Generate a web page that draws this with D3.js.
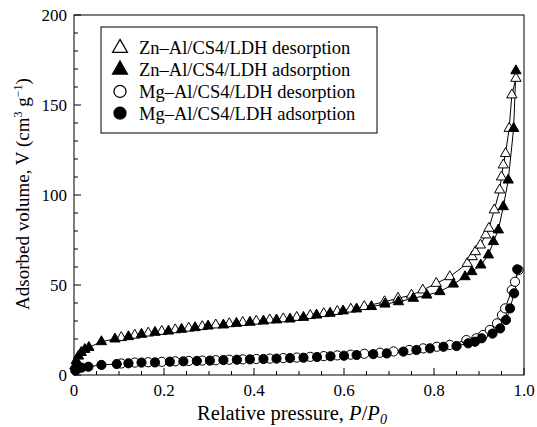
<!DOCTYPE html>
<html>
<head>
<meta charset="utf-8">
<script src="https://cdn.jsdelivr.net/npm/d3@7"></script>
<style>
  body { margin: 0; background: #fff; }
  svg text { font-family: "Liberation Serif", "Times New Roman", serif; fill: #000; }
</style>
</head>
<body>
<div id="chart"></div>
<script>
// Zn-Al/CS4/LDH adsorption (filled triangles)
const znAdsP = [0.002, 0.005, 0.01, 0.016, 0.024, 0.033, 0.061, 0.091, 0.121, 0.150, 0.18, 0.21, 0.239, 0.269, 0.298, 0.332, 0.361, 0.391, 0.421, 0.45, 0.48, 0.51, 0.539, 0.569, 0.598, 0.628, 0.661, 0.691, 0.721, 0.754, 0.784, 0.813, 0.843, 0.869, 0.884, 0.904, 0.921, 0.932, 0.943, 0.954, 0.965, 0.977, 0.982];
const znAdsV = [5, 8, 10.5, 12.5, 14.2, 15.3, 18.5, 20, 21.3, 22.6, 23.7, 24.4, 25.4, 26.3, 27.2, 27.8, 28.7, 29.3, 30, 30.6, 31.1, 32, 33.3, 34.3, 35.6, 36.7, 38, 39.4, 40.7, 42.6, 44.4, 46.3, 50.5, 54.6, 57.4, 61.1, 66.7, 74.1, 80.6, 93.5, 108.3, 137, 169];
// Zn-Al/CS4/LDH desorption (open triangles)
const znDesP = [0.105, 0.135, 0.165, 0.195, 0.225, 0.255, 0.285, 0.315, 0.345, 0.375, 0.405, 0.435, 0.465, 0.495, 0.525, 0.555, 0.585, 0.615, 0.645, 0.69, 0.72, 0.75, 0.775, 0.805, 0.835, 0.874, 0.885, 0.892, 0.903, 0.915, 0.922, 0.934, 0.946, 0.95, 0.954, 0.959, 0.967, 0.973, 0.982];
const znDesV = [20.8, 22.1, 23.3, 24.2, 25.1, 26, 26.9, 27.8, 28.5, 29.2, 29.9, 30.6, 31.2, 32, 33, 34.1, 35.3, 36.6, 38, 40.7, 42.6, 44.4, 47.2, 50.9, 54.6, 62, 65.7, 68.5, 72.2, 77.8, 81.5, 91.7, 102.8, 110, 116.7, 123, 137, 155.6, 164.8];
// Mg-Al/CS4/LDH adsorption (filled circles)
const mgAdsP = [0.003, 0.008, 0.017, 0.032, 0.061, 0.095, 0.121, 0.15, 0.18, 0.213, 0.243, 0.273, 0.302, 0.332, 0.362, 0.391, 0.421, 0.45, 0.48, 0.51, 0.54, 0.57, 0.6, 0.628, 0.665, 0.695, 0.732, 0.761, 0.791, 0.821, 0.85, 0.876, 0.891, 0.906, 0.93, 0.947, 0.96, 0.969, 0.978, 0.985];
const mgAdsV = [2.5, 3.5, 4.1, 4.6, 5.6, 6.1, 6.5, 6.9, 7.0, 7.4, 7.6, 7.8, 8.0, 8.3, 8.5, 8.7, 8.9, 9.1, 9.4, 9.6, 10.0, 10.4, 10.7, 11.1, 11.6, 12, 13, 13.9, 14.8, 15.7, 16.1, 17.6, 18.5, 20.4, 23, 25.9, 30.6, 37, 45.4, 58.7];
// Mg-Al/CS4/LDH desorption (open circles)
const mgDesP = [0.105, 0.135, 0.165, 0.195, 0.225, 0.255, 0.285, 0.315, 0.345, 0.375, 0.405, 0.435, 0.465, 0.495, 0.525, 0.555, 0.585, 0.615, 0.645, 0.68, 0.71, 0.745, 0.776, 0.806, 0.835, 0.872, 0.894, 0.909, 0.924, 0.94, 0.951, 0.958, 0.973, 0.98, 0.988];
const mgDesV = [6.4, 6.9, 7.1, 7.3, 7.6, 7.8, 8.0, 8.2, 8.5, 8.7, 8.9, 9.1, 9.4, 9.7, 10.1, 10.5, 10.9, 11.3, 11.8, 12.4, 13.1, 13.9, 14.8, 15.7, 16.7, 19.4, 20.4, 22.2, 25, 28.7, 33.3, 37, 47.2, 51.8, 58.3];

const xTicks = [0, 0.2, 0.4, 0.6, 0.8, 1.0];
const yTicks = [0, 50, 100, 150, 200];

const legendLabels = ["Zn\u2013Al/CS4/LDH desorption", "Zn\u2013Al/CS4/LDH adsorption",
                      "Mg\u2013Al/CS4/LDH desorption", "Mg\u2013Al/CS4/LDH adsorption"];

const width = 537, height = 427;
const margin = {left: 74, right: 13, top: 15, bottom: 52};

const svg = d3.select("#chart").append("svg")
    .attr("width", width)
    .attr("height", height)
    .attr("font-family", "Liberation Serif, serif");

const x = d3.scaleLinear().domain([0, 1]).range([margin.left, width - margin.right]);
const y = d3.scaleLinear().domain([0, 200]).range([height - margin.bottom, margin.top]);

const zip = (ps, vs) => ps.map((p, i) => ({p: p, v: vs[i]}));

// Series in drawing order: desorption below, adsorption on top
const series = [
    {data: zip(znDesP, znDesV), shape: "tri", filled: false},
    {data: zip(mgDesP, mgDesV), shape: "circ", filled: false},
    {data: zip(znAdsP, znAdsV), shape: "tri", filled: true},
    {data: zip(mgAdsP, mgAdsV), shape: "circ", filled: true}
];

const line = d3.line().x(d => x(d.p)).y(d => y(d.v));
const triangle = d3.symbol().type(d3.symbolTriangle).size(46);

// Lines first
series.forEach(s => {
    svg.append("path")
        .datum(s.data)
        .attr("d", line)
        .attr("fill", "none")
        .attr("stroke", "#000")
        .attr("stroke-width", 1);
});

// Markers
function drawMarker(g, shape, filled, big) {
    if (shape === "tri") {
        g.append("path").attr("d", big ? d3.symbol().type(d3.symbolTriangle).size(95) : triangle)
            .attr("fill", filled ? "#000" : "#fff")
            .attr("stroke", "#000").attr("stroke-width", big ? 1.3 : 1);
    } else {
        g.append("circle").attr("r", big ? 6 : 4.6)
            .attr("fill", filled ? "#000" : "#fff")
            .attr("stroke", "#000").attr("stroke-width", big ? 1.3 : 1);
    }
}

series.forEach(s => {
    svg.append("g").selectAll("g")
        .data(s.data)
        .enter()
        .append("g")
        .attr("transform", d => `translate(${x(d.p)},${y(d.v)})`)
        .each(function() { drawMarker(d3.select(this), s.shape, s.filled, false); });
});

// Frame
svg.append("rect")
    .attr("x", x(0)).attr("y", y(200))
    .attr("width", x(1) - x(0)).attr("height", y(0) - y(200))
    .attr("fill", "none").attr("stroke", "#000").attr("stroke-width", 1);

// X axis: major every 0.2, minor every 0.05, ticks inward
const xAxis = svg.append("g").attr("transform", `translate(0,${y(0)})`);
xAxis.selectAll("line")
    .data(d3.range(0, 1.0001, 0.05))
    .enter().append("line")
    .attr("x1", d => x(d)).attr("x2", d => x(d))
    .attr("y1", 0).attr("y2", d => Math.abs(d * 5 - Math.round(d * 5)) < 1e-6 ? -7 : -4)
    .attr("stroke", "#000");
xAxis.selectAll("text")
    .data(xTicks)
    .enter().append("text")
    .attr("x", d => x(d)).attr("y", 21)
    .attr("text-anchor", "middle")
    .style("font-size", "17px")
    .text(d => d === 0 ? "0" : d3.format(".1f")(d));

// Y axis: major every 50, minor every 10
const yAxis = svg.append("g").attr("transform", `translate(${x(0)},0)`);
yAxis.selectAll("line")
    .data(d3.range(0, 201, 10))
    .enter().append("line")
    .attr("y1", d => y(d)).attr("y2", d => y(d))
    .attr("x1", 0).attr("x2", d => d % 50 === 0 ? 7 : 4)
    .attr("stroke", "#000");
yAxis.selectAll("text")
    .data(yTicks)
    .enter().append("text")
    .attr("x", -7).attr("y", d => y(d))
    .attr("dy", "0.35em")
    .attr("text-anchor", "end")
    .style("font-size", "17px")
    .text(d => d);

// Axis titles
const xt = svg.append("text")
    .attr("x", 292).attr("y", 420)
    .attr("text-anchor", "middle")
    .style("font-size", "20.5px");
xt.append("tspan").text("Relative pressure, ");
xt.append("tspan").style("font-style", "italic").text("P");
xt.append("tspan").text("/");
xt.append("tspan").style("font-style", "italic").text("P");
xt.append("tspan").style("font-style", "italic").style("font-size", "14px").attr("dy", 4).text("0");

const yt = svg.append("text")
    .attr("transform", `translate(29,194) rotate(-90)`)
    .attr("text-anchor", "middle")
    .style("font-size", "19px");
yt.append("tspan").text("Adsorbed volume, V (cm");
yt.append("tspan").style("font-size", "12px").attr("dy", -7).text("3");
yt.append("tspan").attr("dy", 7).text(" g");
yt.append("tspan").style("font-size", "12px").attr("dy", -7).text("\u22121");
yt.append("tspan").attr("dy", 7).text(")");

// Legend
const legend = svg.append("g");
legend.append("rect")
    .attr("x", 101).attr("y", 27).attr("width", 276).attr("height", 106)
    .attr("fill", "#fff").attr("stroke", "#000").attr("stroke-width", 1);
const legendShapes = [["tri", false], ["tri", true], ["circ", false], ["circ", true]];
legendLabels.forEach((lab, i) => {
    const cy = 48 + i * 21.7;
    const g = legend.append("g").attr("transform", `translate(120,${cy})`);
    drawMarker(g, legendShapes[i][0], legendShapes[i][1], true);
    legend.append("text")
        .attr("x", 139).attr("y", cy)
        .attr("dy", "0.35em")
        .style("font-size", "18.5px")
        .text(lab);
});
</script>
</body>
</html>
